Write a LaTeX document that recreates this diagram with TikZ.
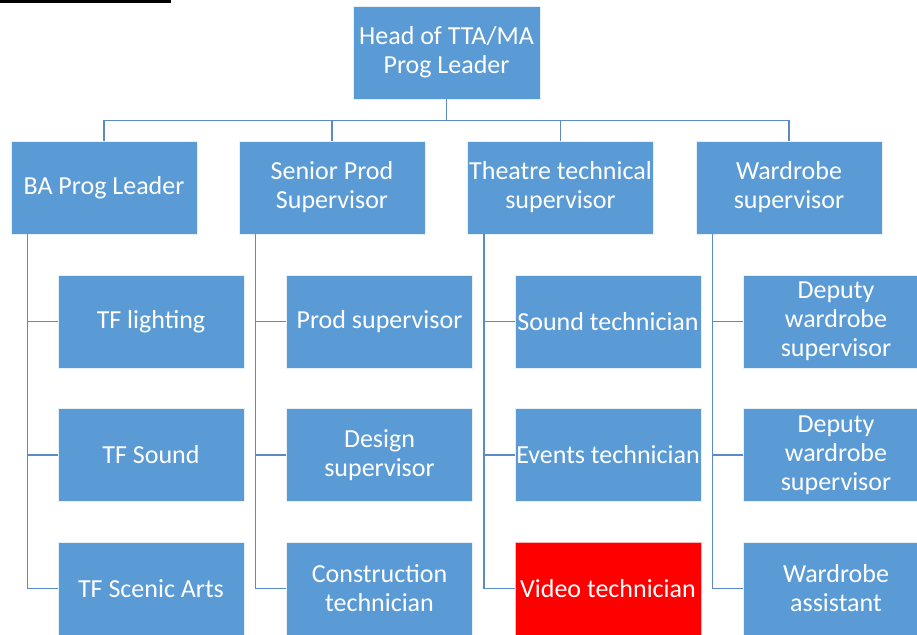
\documentclass[tikz,border=0pt]{standalone}
\usepackage{fontspec}
\setmainfont{Carlito}
\usepackage{tikz}
\usetikzlibrary{positioning}
\definecolor{boxblue}{HTML}{5B9BD5}
\definecolor{linkblue}{HTML}{5A8BC4}
\definecolor{alertred}{HTML}{FF0000}
\tikzstyle{post} = [rectangle, minimum width=186pt, minimum height=93pt, inner sep=0pt, text centered, align=center, fill=boxblue, draw=white!85!boxblue, line width=0.8pt, text=white, font=\fontsize{26}{29}\selectfont]
\tikzstyle{vacant} = [post, fill=alertred, draw=white!70!alertred]
\tikzstyle{link} = [draw=linkblue, line width=1.6pt]

\begin{document}
\begin{tikzpicture}[x=1pt, y=-1pt]
  \path [use as bounding box, clip] (0,0) rectangle (917,634);
  \draw [line width=3pt] (0,2) -- (171,2);

  \node (head) [post, minimum width=187pt] at (446.5,52.5) {Head of TTA/MA\\Prog Leader};

  \node (ba) [post] at (104,187.5) {BA Prog Leader};
  \node (senior) [post] at (332,187.5) {Senior Prod\\Supervisor};
  \node (theatre) [post] at (560.5,187.5) {Theatre technical\\supervisor};
  \node (ward) [post] at (789,187.5) {Wardrobe\\supervisor};

  \node (tfl) [post] at (151,321.5) {TF lighting};
  \node (tfs) [post] at (151,455) {TF Sound};
  \node (tfa) [post] at (151,588.5) {TF Scenic Arts};

  \node (prod) [post] at (379.5,321.5) {Prod supervisor};
  \node (design) [post] at (379.5,455) {Design\\supervisor};
  \node (constr) [post] at (379.5,588.5) {Construction\\technician};

  \node (sound) [post] at (608,321.5) {Sound technician};
  \node (events) [post] at (608,455) {Events technician};
  \node (video) [vacant] at (608,588.5) {Video technician};

  \node (dep1) [post] at (836,321.5) {Deputy\\wardrobe\\supervisor};
  \node (dep2) [post] at (836,455) {Deputy\\wardrobe\\supervisor};
  \node (assist) [post] at (836,588.5) {Wardrobe\\assistant};

  % top level bus
  \draw [link] (head.south) -- ++(0,21) coordinate (bus);
  \draw [link] (bus -| ba.north) -- (bus -| ward.north);
  \draw [link] (bus -| ba.north) -- (ba.north);
  \draw [link] (bus -| senior.north) -- (senior.north);
  \draw [link] (bus -| theatre.north) -- (theatre.north);
  \draw [link] (bus -| ward.north) -- (ward.north);

  % side spines
  \draw [link] ([xshift=17pt]ba.south west) |- (tfa.west);
  \draw [link] ([xshift=17pt]ba.south west) |- (tfs.west);
  \draw [link] ([xshift=17pt]ba.south west) |- (tfl.west);
  \draw [link] ([xshift=17pt]senior.south west) |- (constr.west);
  \draw [link] ([xshift=17pt]senior.south west) |- (design.west);
  \draw [link] ([xshift=17pt]senior.south west) |- (prod.west);
  \draw [link] ([xshift=17pt]theatre.south west) |- (video.west);
  \draw [link] ([xshift=17pt]theatre.south west) |- (events.west);
  \draw [link] ([xshift=17pt]theatre.south west) |- (sound.west);
  \draw [link] ([xshift=17pt]ward.south west) |- (assist.west);
  \draw [link] ([xshift=17pt]ward.south west) |- (dep2.west);
  \draw [link] ([xshift=17pt]ward.south west) |- (dep1.west);
\end{tikzpicture}
\end{document}
